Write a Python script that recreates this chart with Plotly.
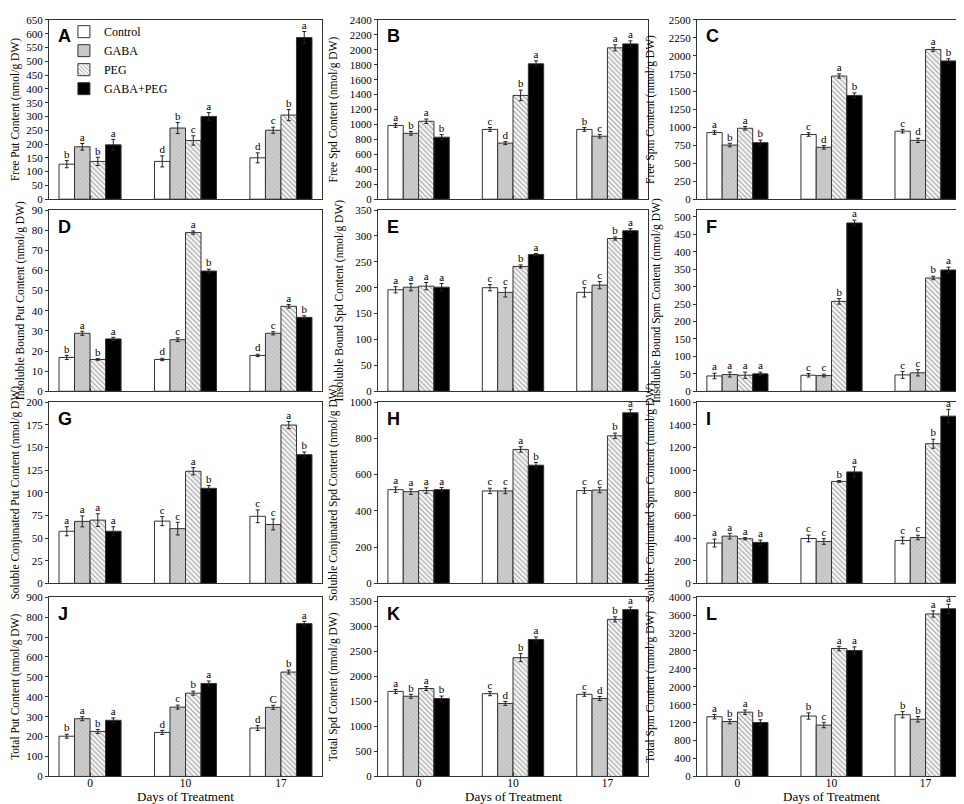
import plotly.graph_objects as go

days = ["0", "10", "17"]
treatments = ["Control", "GABA", "PEG", "GABA+PEG"]

# each panel: rows = treatments, columns = days
free_put = [[127, 137, 150], [190, 258, 250], [137, 213, 305], [197, 300, 586]]
free_put_err = [[13, 20, 18], [12, 20, 11], [15, 17, 20], [20, 14, 22]]
free_put_sig = [["b", "d", "d"], ["a", "b", "c"], ["b", "c", "b"], ["a", "a", "a"]]

free_spd = [[987, 934, 934], [882, 751, 843], [1043, 1389, 2026], [830, 1812, 2079]]
free_spd_err = [[25, 25, 25], [25, 20, 25], [30, 70, 40], [35, 40, 40]]
free_spd_sig = [["a", "c", "b"], ["b", "d", "c"], ["a", "b", "a"], ["b", "a", "a"]]

free_spm = [[929, 902, 948], [755, 723, 820], [989, 1717, 2088], [788, 1447, 1928]]
free_spm_err = [[25, 25, 25], [25, 25, 30], [25, 30, 25], [35, 35, 30]]
free_spm_sig = [["a", "c", "c"], ["b", "d", "d"], ["a", "a", "a"], ["b", "b", "b"]]

ib_put = [[16.8, 15.8, 17.8], [28.8, 25.6, 28.8], [15.8, 78.8, 42.2], [26.0, 59.7, 36.7]]
ib_put_err = [[1.0, 0.6, 0.6], [1.0, 0.9, 0.8], [0.4, 0.8, 0.9], [0.8, 0.9, 0.8]]
ib_put_sig = [["b", "d", "d"], ["a", "c", "c"], ["b", "a", "a"], ["a", "b", "b"]]

ib_spd = [[196, 200, 191], [201, 191, 205], [203, 241, 295], [201, 264, 310]]
ib_spd_err = [[6, 6, 9], [7, 9, 7], [7, 3, 3], [7, 2, 4]]
ib_spd_sig = [["a", "c", "c"], ["a", "c", "c"], ["a", "b", "b"], ["a", "a", "a"]]

ib_spm = [[44, 46, 47], [48, 45, 53], [46, 258, 325], [50, 483, 348]]
ib_spm_err = [[8, 5, 10], [7, 4, 9], [9, 8, 5], [5, 8, 8]]
ib_spm_sig = [["a", "c", "c"], ["a", "c", "c"], ["a", "b", "b"], ["a", "a", "a"]]

sc_put = [[57.5, 68.7, 74.0], [68.4, 60.4, 65.0], [69.8, 123.7, 174.7], [57.5, 104.9, 142.0]]
sc_put_err = [[5, 5, 7], [6, 7, 6], [7, 4, 4], [5, 3, 3]]
sc_put_sig = [["a", "c", "c"], ["a", "c", "c"], ["a", "a", "a"], ["a", "b", "b"]]

sc_spd = [[517, 510, 512], [506, 510, 515], [512, 739, 814], [517, 652, 941]]
sc_spd_err = [[15, 15, 15], [15, 15, 15], [15, 15, 15], [12, 15, 17]]
sc_spd_sig = [["a", "c", "c"], ["a", "c", "c"], ["a", "a", "b"], ["a", "b", "a"]]

sc_spm = [[356, 396, 379], [417, 370, 405], [394, 900, 1233], [362, 984, 1476]]
sc_spm_err = [[35, 30, 30], [25, 25, 20], [10, 8, 40], [20, 45, 60]]
sc_spm_sig = [["a", "c", "c"], ["a", "c", "c"], ["a", "b", "b"], ["a", "a", "a"]]

tot_put = [[202, 221, 243], [290, 348, 347], [226, 418, 524], [282, 467, 767]]
tot_put_err = [[10, 10, 12], [10, 10, 10], [10, 10, 10], [12, 12, 12]]
tot_put_sig = [["b", "d", "d"], ["a", "c", "C"], ["b", "b", "b"], ["a", "a", "a"]]

tot_spd = [[1698, 1653, 1640], [1601, 1458, 1555], [1756, 2372, 3137], [1555, 2735, 3331]]
tot_spd_err = [[40, 40, 40], [40, 40, 40], [40, 80, 50], [50, 50, 50]]
tot_spd_sig = [["a", "c", "c"], ["b", "d", "d"], ["a", "b", "b"], ["b", "a", "a"]]

tot_spm = [[1333, 1348, 1377], [1225, 1146, 1276], [1434, 2854, 3625], [1204, 2811, 3741]]
tot_spm_err = [[50, 70, 70], [50, 60, 60], [50, 50, 70], [60, 80, 100]]
tot_spm_sig = [["a", "b", "b"], ["b", "c", "b"], ["a", "a", "a"], ["b", "a", "a"]]

panel_letters = ["A", "B", "C", "D", "E", "F", "G", "H", "I", "J", "K", "L"]
y_titles = [
    "Free Put Content (nmol/g DW)", "Free Spd Content (nmol/g DW)", "Free Spm Content (nmol/g DW)",
    "Insoluble Bound Put Content (nmol/g DW)", "Insoluble Bound Spd Content (nmol/g DW)",
    "Insoluble Bound Spm Content (nmol/g DW)",
    "Soluble Conjunated Put Content (nmol/g DW)", "Soluble Conjunated Spd Content (nmol/g DW)",
    "Soluble Conjunated Spm Content (nmol/g DW)",
    "Total Put Content (nmol/g DW)", "Total Spd Content (nmol/g DW)", "Total Spm Content (nmol/g DW)",
]
y_max = [650, 2400, 2500, 90, 350, 520, 200, 1000, 1600, 900, 3580, 4000]
y_dtick = [50, 200, 250, 10, 50, 50, 25, 200, 200, 100, 500, 400]

means = [free_put, free_spd, free_spm, ib_put, ib_spd, ib_spm, sc_put, sc_spd, sc_spm, tot_put, tot_spd, tot_spm]
errs = [free_put_err, free_spd_err, free_spm_err, ib_put_err, ib_spd_err, ib_spm_err,
        sc_put_err, sc_spd_err, sc_spm_err, tot_put_err, tot_spd_err, tot_spm_err]
sigs = [free_put_sig, free_spd_sig, free_spm_sig, ib_put_sig, ib_spd_sig, ib_spm_sig,
        sc_put_sig, sc_spd_sig, sc_spm_sig, tot_put_sig, tot_spd_sig, tot_spm_sig]

# page layout in pixels
W, H = 964, 804
col_px = [(41, 314), (370, 640), (689, 958)]
row_px = [(6, 188), (199, 383), (394, 578), (592, 774)]
title_gap = [4, 9, 11]

serif = "Liberation Serif"
outline = "#333333"
styles = [
    dict(color="white", pattern=dict(shape="")),
    dict(color="#cccccc", pattern=dict(shape="/", fgcolor="#a0a0a0", bgcolor="#cccccc", size=3, solidity=0.25)),
    dict(color="white", pattern=dict(shape="\\", fgcolor="#444444", bgcolor="white", size=3.5, solidity=0.35)),
    dict(color="black", pattern=dict(shape="")),
]

group_w = 0.65
bar_w = group_w / len(treatments)
xpos = list(range(len(days)))

fig = go.Figure()
for k in range(12):
    r, c = divmod(k, 3)
    suffix = "" if k == 0 else str(k + 1)
    xa, ya = "x" + suffix, "y" + suffix
    for i, name in enumerate(treatments):
        fig.add_trace(go.Bar(
            x=xpos, y=means[k][i], name=name, xaxis=xa, yaxis=ya,
            marker=dict(line=dict(color=outline, width=1), **styles[i]),
            error_y=dict(type="data", array=errs[k][i], color="#222222", thickness=1, width=2),
            showlegend=(k == 0), legendgroup=name,
        ))
        shift = -group_w / 2 + bar_w * (i + 0.5)
        fig.add_trace(go.Scatter(
            x=[p + shift for p in xpos],
            y=[m + e for m, e in zip(means[k][i], errs[k][i])],
            text=sigs[k][i], mode="text", textposition="top center",
            textfont=dict(family=serif, size=11, color="black"),
            xaxis=xa, yaxis=ya, showlegend=False, hoverinfo="skip",
        ))

    x0, x1 = col_px[c]
    y0, y1 = row_px[r]
    axis_line = dict(showline=True, linecolor=outline, linewidth=1, mirror=True,
                     showgrid=False, zeroline=False)
    fig.layout["xaxis" + suffix] = dict(
        domain=[x0 / W, x1 / W], anchor=ya, range=[-0.43, 2.43],
        tickvals=xpos, ticktext=days if r == 3 else ["", "", ""],
        ticks="inside", ticklen=3, tickcolor=outline, ticklabelstandoff=-4,
        tickfont=dict(family=serif, size=11.5, color="black"),
        **axis_line,
    )
    fig.layout["yaxis" + suffix] = dict(
        domain=[1 - y1 / H, 1 - y0 / H], anchor=xa, range=[0, y_max[k]],
        dtick=y_dtick[k], ticks="outside", ticklen=3, tickcolor=outline,
        tickfont=dict(family=serif, size=11, color="black"),
        title=dict(text=y_titles[k], font=dict(family=serif, size=11.5, color="black"),
                   standoff=title_gap[c]),
        **axis_line,
    )
    fig.add_annotation(
        text="<b>" + panel_letters[k] + "</b>", xref=xa + " domain", yref=ya + " domain",
        x=0.025, y=0.975, xanchor="left", yanchor="top", showarrow=False,
        font=dict(family="Liberation Sans", size=18, color="black"),
    )
    if r == 3:
        fig.add_annotation(
            text="Days of Treatment", xref=xa + " domain", yref="paper",
            x=0.5, y=0, xanchor="center", yanchor="bottom", showarrow=False,
            font=dict(family=serif, size=13, color="black"),
        )

fig.update_layout(
    width=W, height=H, margin=dict(l=0, r=0, t=0, b=0),
    barmode="group", bargap=0.35, bargroupgap=0,
    plot_bgcolor="white", paper_bgcolor="white",
    legend=dict(x=0.058, y=0.996, xanchor="left", yanchor="top", tracegroupgap=0,
                font=dict(family=serif, size=12, color="black"), bgcolor="rgba(0,0,0,0)"),
)
fig.write_html("out.html")
